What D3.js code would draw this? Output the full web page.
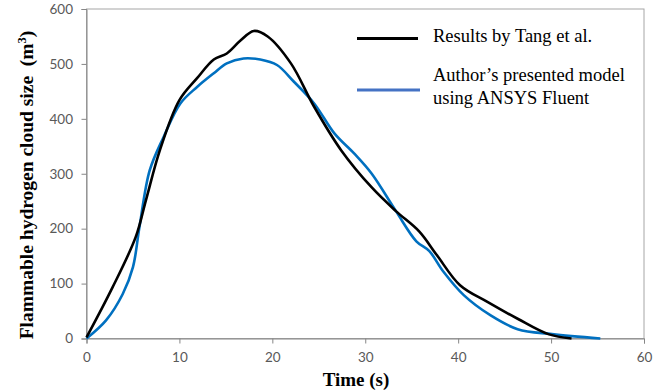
<!DOCTYPE html>
<html><head><meta charset="utf-8">
<script src="https://cdn.jsdelivr.net/npm/d3@7"></script>
<style>body{margin:0;background:#fff}svg{display:block}</style>
</head><body>
<svg id="c" width="656" height="391"></svg>
<script>
const xTicks = [0,10,20,30,40,50,60];
const yTicks = [0,100,200,300,400,500,600];
const seriesNames = ["Results by Tang et al.", ["Author\u2019s presented model", "using ANSYS Fluent"]];
const tangT = [0,2.8,5.3,6.4,7.9,10.0,11.9,13.7,15.1,16.6,18.0,19.5,22.0,24.5,27.4,30.7,33.3,35.8,37.7,40.2,43.1,46.4,49.7,52.2];
const tangV = [2,93,185,252,343,434,474,508,519,543,560,550,501,422,343,275,232,195,152,97,67,36,8,0];
const ansysT = [0,2.1,3.9,5.0,5.7,6.8,8.3,10.1,11.9,13.7,15.1,16.9,18.7,20.5,22.3,24.5,26.7,28.8,30.7,33.3,35.5,36.9,38.4,40.6,43.5,46.4,50.1,55.3];
const ansysV = [0,33,81,130,203,306,367,428,458,483,501,510,508,498,468,428,373,337,300,232,177,159,122,79,42,17,8,0];

const svg = d3.select("#c");
const L = 86.5, R = 644, T = 9, B = 338.5;
const x = d3.scaleLinear().domain([0,60]).range([L,R]);
const y = d3.scaleLinear().domain([0,600]).range([B,T]);
const font = "'Liberation Serif','Times New Roman',serif";
const tickFont = "Lato,'Open Sans',sans-serif";

// plot frame
svg.append("rect").attr("x",L).attr("y",T).attr("width",R-L).attr("height",B-T)
  .attr("fill","none").attr("stroke","#a6a6a6").attr("stroke-width",1);

const xAxis = svg.append("g").attr("transform",`translate(0,${B})`)
  .call(d3.axisBottom(x).tickValues(xTicks).tickSize(5).tickPadding(9));
const yAxis = svg.append("g").attr("transform",`translate(${L},0)`)
  .call(d3.axisLeft(y).tickValues(yTicks).tickSize(5).tickPadding(8.5));
[xAxis,yAxis].forEach(a=>{
  a.select(".domain").attr("stroke","#868686");
  a.selectAll(".tick line").attr("stroke","#868686");
  a.selectAll(".tick text").attr("fill","#595959").style("font-family",tickFont).style("font-size","13.5px");
});

const line = d3.line().x(d=>x(d[0])).y(d=>y(d[1])).curve(d3.curveCatmullRom.alpha(0.5));
const tang = d3.zip(tangT,tangV), ansys = d3.zip(ansysT,ansysV);
svg.append("path").attr("d",line(ansys)).attr("fill","none").attr("stroke","#0070c0").attr("stroke-width",2.6);
svg.append("path").attr("d",line(tang)).attr("fill","none").attr("stroke","#000").attr("stroke-width",2.6);

// legend
const lg = svg.append("g").style("font-family",font).style("font-size","18.5px").attr("fill","#000");
lg.append("line").attr("x1",357).attr("x2",418).attr("y1",38.5).attr("y2",38.5).attr("stroke","#000").attr("stroke-width",2.8);
lg.append("text").attr("x",433).attr("y",42).text(seriesNames[0]);
lg.append("line").attr("x1",357).attr("x2",420).attr("y1",90).attr("y2",90).attr("stroke","#4472c4").attr("stroke-width",2.8);
lg.append("text").attr("x",433).attr("y",81).text(seriesNames[1][0]);
lg.append("text").attr("x",433).attr("y",104).text(seriesNames[1][1]);

// axis titles
svg.append("text").attr("x",356).attr("y",385.5).attr("text-anchor","middle")
  .style("font-family",font).style("font-size","19px").style("font-weight","bold").text("Time (s)");
const yt = svg.append("text").attr("transform",`translate(32.5,185) rotate(-90)`).attr("text-anchor","middle")
  .style("font-family",font).style("font-size","19.5px").style("font-weight","bold");
yt.append("tspan").text("Flammable hydrogen cloud size\u00a0 (m");
yt.append("tspan").attr("dy",-7).style("font-size","12.5px").text("3");
yt.append("tspan").attr("dy",7).text(")");
</script>
</body></html>
